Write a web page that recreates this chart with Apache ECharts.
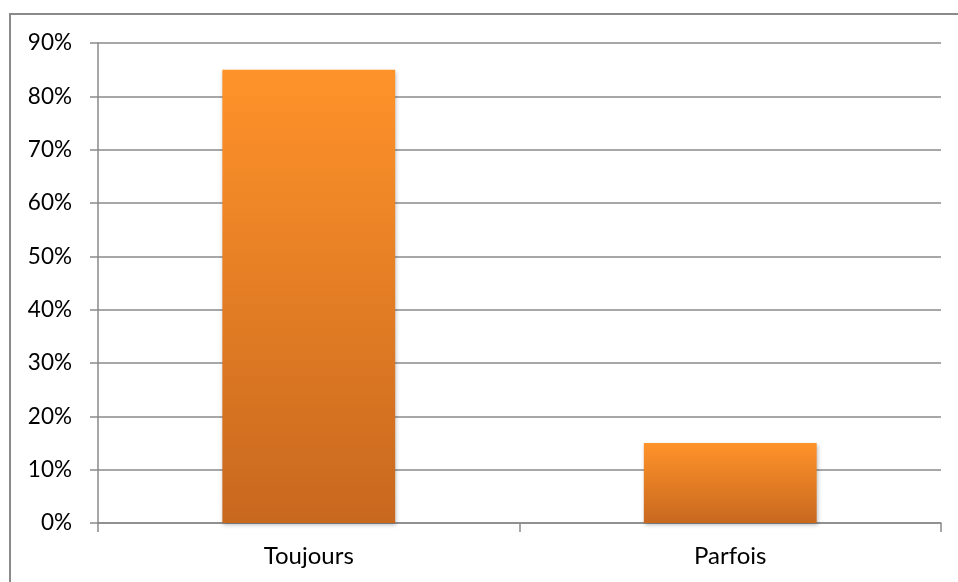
<!DOCTYPE html>
<html>
<head>
<meta charset="utf-8">
<script src="https://cdn.jsdelivr.net/npm/echarts@6/dist/echarts.min.js"></script>
<style>
html,body{margin:0;padding:0;background:#fff;}
#main{width:958px;height:582px;}
</style>
</head>
<body>
<div id="main"></div>
<script>
const categories = ['Toujours', 'Parfois'];
const values = [85, 15];
const yTicks = [0, 10, 20, 30, 40, 50, 60, 70, 80, 90];

const chart = echarts.init(document.getElementById('main'), null, {renderer: 'canvas'});
const font = 'Lato, "Liberation Sans", sans-serif';
chart.setOption({
  animation: false,
  backgroundColor: '#fff',
  graphic: [{
    type: 'rect',
    shape: {x: 10, y: 14, width: 1000, height: 700},
    style: {fill: 'none', stroke: '#8a8a8a', lineWidth: 2},
    silent: true
  }],
  grid: {left: 98, right: 17, top: 43, bottom: 59, containLabel: false},
  xAxis: {
    type: 'category',
    data: categories,
    axisLine: {show: true, lineStyle: {color: '#8a8a8a', width: 1.5}},
    axisTick: {show: true, alignWithLabel: false, length: 9, lineStyle: {color: '#8a8a8a', width: 1.5}},
    axisLabel: {color: '#000', fontSize: 24, fontFamily: font, margin: 21}
  },
  yAxis: {
    type: 'value',
    min: yTicks[0],
    max: yTicks[yTicks.length - 1],
    interval: 10,
    axisLine: {show: true, lineStyle: {color: '#8a8a8a', width: 1.5}},
    axisTick: {show: true, length: 8, lineStyle: {color: '#8a8a8a', width: 1.5}},
    splitLine: {show: true, lineStyle: {color: '#8a8a8a', width: 1.5}},
    axisLabel: {color: '#000', fontSize: 22.5, fontFamily: font, margin: 26, formatter: v => v + '%'}
  },
  series: [{
    type: 'bar',
    data: values,
    barWidth: '41%',
    itemStyle: {
      color: new echarts.graphic.LinearGradient(0, 0, 0, 1, [
        {offset: 0, color: '#FF932A'},
        {offset: 1, color: '#C8681F'}
      ]),
      shadowColor: 'rgba(0,0,0,0.25)',
      shadowBlur: 4,
      shadowOffsetX: 1,
      shadowOffsetY: 2
    }
  }]
});
</script>
</body>
</html>
